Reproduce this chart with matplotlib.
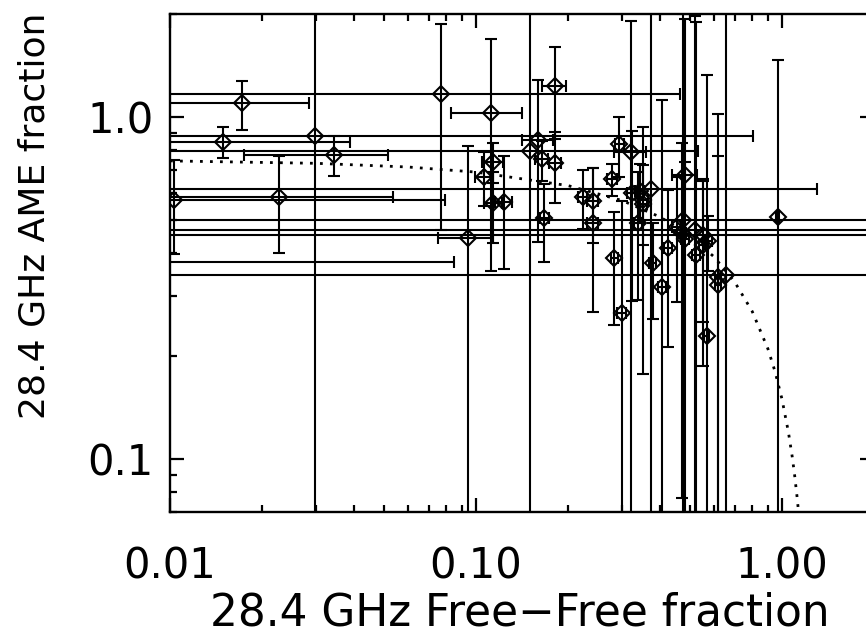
import numpy as np
import matplotlib
matplotlib.use("Agg")
import matplotlib.pyplot as plt
from matplotlib.ticker import FixedLocator, FixedFormatter, LogLocator, NullFormatter

# free-free fraction (x) and AME fraction (y) at 28.4 GHz, with 1-sigma errors
ff = [0.0172, 0.0149, 0.0298, 0.0344, 0.0103, 0.0227, 0.0767, 0.005,
      0.0944, 0.112, 0.1135, 0.1064, 0.114, 0.1235, 0.150, 0.160,
      0.164, 0.1675, 0.181, 0.181, 0.2233, 0.2406, 0.2406, 0.278,
      0.294, 0.2835, 0.2996, 0.321, 0.323, 0.339, 0.3435, 0.352,
      0.352, 0.373, 0.378, 0.406, 0.425, 0.453, 0.474, 0.482,
      0.470, 0.482, 0.520, 0.524, 0.551, 0.551, 0.574, 0.567,
      0.619, 0.619, 0.656, 0.968]
ame = [1.096, 0.847, 0.880, 0.776, 0.572, 0.585, 1.168, 0.3775,
       0.442, 1.025, 0.740, 0.669, 0.559, 0.565, 0.797, 0.857,
       0.752, 0.506, 1.235, 0.732, 0.585, 0.568, 0.489, 0.657,
       0.834, 0.386, 0.267, 0.792, 0.600, 0.491, 0.609, 0.572,
       0.557, 0.617, 0.373, 0.318, 0.413, 0.478, 0.500, 0.677,
       0.457, 0.439, 0.467, 0.395, 0.452, 0.422, 0.435, 0.229,
       0.341, 0.323, 0.345, 0.511]
ff_err = [0.0113, 0.024, 0.774, 0.017, 0.069, 0.031, 0.387, 0.080,
          0.019, 0.029, 0.009, 0.007, 0.008, 0.008, 0.38, 0.019,
          0.008, 0.006, 0.016, 0.008, 0.008, 0.010, 0.010, 0.010,
          0.010, 0.008, 0.010, 0.038, 0.012, 0.010, 0.012, 0.012,
          0.010, 0.93, 0.010, 0.012, 0.012, 0.015, 3.0, 0.045,
          0.015, 0.015, 3.0, 0.015, 3.0, 0.015, 0.015, 0.012,
          0.015, 0.015, 3.0, 0.010]
ame_err = [0.18, 0.09, 1.5, 0.105, 0.175, 0.185, 0.70, 0.10,
           0.38, 0.67, 0.10, 0.12, 0.13, 0.205, 1.5, 0.425,
           0.10, 0.13, 0.37, 0.17, 0.115, 0.14, 0.22, 0.07,
           0.166, 0.14, 0.30, 1.12, 0.31, 0.20, 0.12, 0.15,
           0.38, 1.4, 0.116, 0.80, 0.20, 0.19, 1.5, 0.06,
           0.38, 1.5, 1.5, 1.5, 0.20, 0.235, 0.08, 1.1,
           0.43, 0.70, 2.0, 0.96]

# dotted model curve
fit_x = [0.01, 0.03, 0.06, 0.1, 0.2, 0.3, 0.4, 0.5, 0.6, 0.7, 0.8,
         0.9, 0.95, 1.0, 1.05, 1.08, 1.1, 1.12, 1.13]
fit_y = [0.744, 0.732, 0.714, 0.69, 0.63, 0.57, 0.51, 0.45, 0.39, 0.33, 0.27,
         0.21, 0.18, 0.15, 0.12, 0.102, 0.09, 0.078, 0.072]

fig = plt.figure(figsize=(8.66, 6.36), dpi=100)
ax = fig.add_axes([170/866, 124/636, 704/866, 498/636])

ax.errorbar(ff, ame, xerr=ff_err, yerr=ame_err, fmt='D', ms=8, mfc='none',
            mec='k', mew=1.5, ecolor='k', elinewidth=1.5, capsize=4,
            capthick=1.5, zorder=3)
ax.plot(fit_x, fit_y, color='k', lw=2, linestyle=(0, (1, 2.6)), zorder=2)

ax.set_xscale('log')
ax.set_yscale('log')
ax.set_xlim(0.01, 2.0)
ax.set_ylim(0.07, 2.0)

ax.xaxis.set_major_locator(FixedLocator([0.01, 0.1, 1.0]))
ax.xaxis.set_major_formatter(FixedFormatter(['0.01', '0.10', '1.00']))
ax.yaxis.set_major_locator(FixedLocator([0.1, 1.0]))
ax.yaxis.set_major_formatter(FixedFormatter(['0.1', '1.0']))
for a in (ax.xaxis, ax.yaxis):
    a.set_minor_locator(LogLocator(base=10, subs=np.arange(2, 10)))
    a.set_minor_formatter(NullFormatter())

ax.tick_params(which='both', direction='in', top=True, right=True, width=1.6)
ax.tick_params(which='major', length=10)
ax.tick_params(which='minor', length=5)
ax.tick_params(axis='x', which='major', labelsize=30, pad=24)
ax.tick_params(axis='y', which='major', labelsize=30, pad=12)
for s in ax.spines.values():
    s.set_linewidth(1.7)

fig.text(520/866, 1 - 613/636, '28.4 GHz Free\u2212Free fraction', fontsize=31.5,
         ha='center', va='center')
fig.text(35/866, 1 - 216/636, '28.4 GHz AME fraction', fontsize=26,
         ha='center', va='center', rotation=90)

fig.savefig('out.png', dpi=100)
